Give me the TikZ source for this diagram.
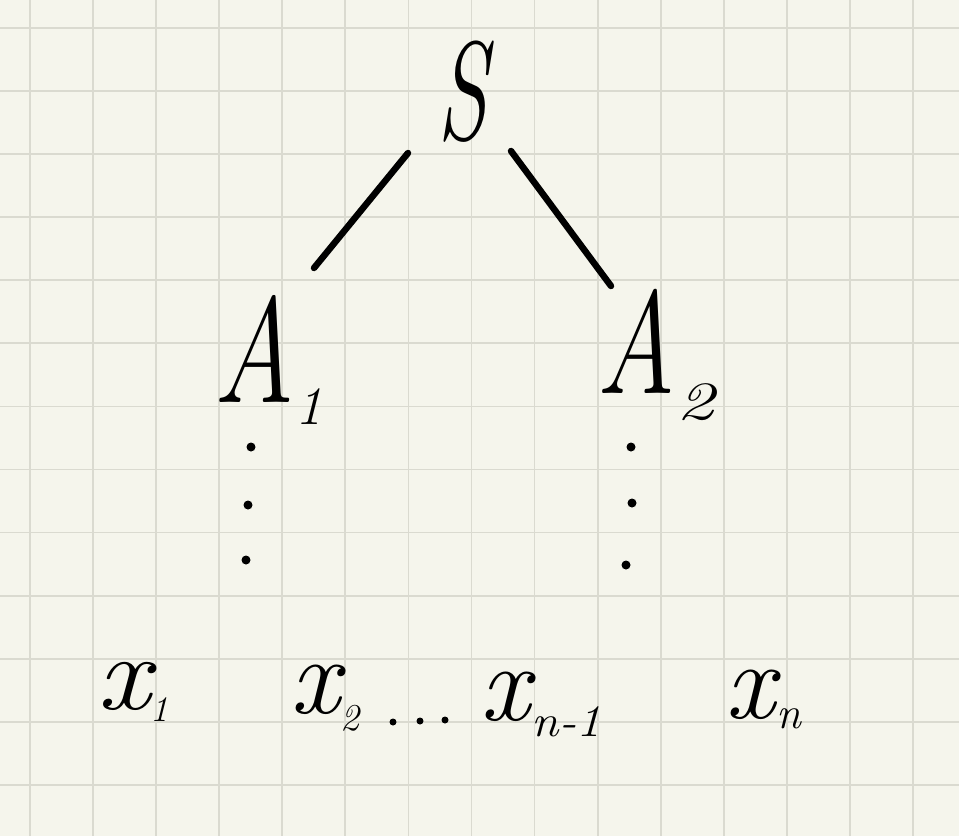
\documentclass[tikz,border=0pt]{standalone}
\usepackage{fontspec}
\usepackage{graphicx}
\usetikzlibrary{calc}
\definecolor{paper}{RGB}{245,245,236}
\definecolor{gridc}{RGB}{218,218,208}
\newcommand\hwtxt[3]{\scalebox{#2}[1]{\fontsize{#1}{#1}\selectfont\itshape #3}}
\newcommand\hwsub[3]{\hspace*{#1}\raisebox{#2}{#3}}
\tikzset{
  lbl/.style={anchor=base west, inner sep=0pt, outer sep=0pt},
  edge/.style={line width=6.5pt, line cap=round},
  dotn/.style={circle, fill=black, inner sep=0pt, minimum size=9pt},
  smalldot/.style={circle, fill=black, inner sep=0pt, minimum size=7pt},
  gridline/.style={gridc, line width=1.8pt}
}
\begin{document}
\begin{tikzpicture}[x=1pt,y=-1pt]
\fill[paper] (0,0) rectangle (959,836);
\useasboundingbox (0,0) rectangle (959,836);
\foreach \i in {0,...,14} \draw[gridline] ({30+63.07*\i},0) -- ++(0,836);
\foreach \i in {0,...,12} \draw[gridline] (0,{28+63.07*\i}) -- ++(959,0);

% root
\node[anchor=base, inner sep=0pt, outer sep=0pt] (S) at (463,139) {\hwtxt{140}{0.65}{S}};
% second level
\node[lbl] (A1) at (213,402) {\hwtxt{150}{0.75}{A}\hwsub{0.5pt}{-22pt}{\hwtxt{54}{1}{1}}};
\node[lbl] (A2) at (596.5,393) {\hwtxt{146}{0.75}{A}\hwsub{0.5pt}{-26pt}{\hwtxt{54}{1.4}{2}}};

\draw[edge] ($(S.base)+(-55,14)$) -- ($(A1.base west)+(101,-134)$);
\draw[edge] ($(S.base)+(48,12)$) -- ($(A2.base west)+(14.5,-107)$);

% vertical dots
\node[dotn] (d11) at (251,447) {};
\node[dotn] (d12) at (248,505) {};
\node[dotn] (d13) at (246,560) {};
\node[dotn] (d21) at (631,447) {};
\node[dotn] (d22) at (632,503) {};
\node[dotn] (d23) at (626,565) {};

% leaves
\node[lbl] (x1) at (97,709) {\hwtxt{107}{1.1}{x}\hwsub{0.5pt}{-12pt}{\hwtxt{36}{1}{1}}};
\node[lbl] (x2) at (290,713) {\hwtxt{110}{1}{x}\hwsub{0.5pt}{-17pt}{\hwtxt{38}{1}{2}}};
\node[smalldot] (b1) at (393,722) {};
\node[smalldot] (b2) at (420,721) {};
\node[smalldot] (b3) at (445,720) {};
\node[lbl] (xm) at (480.4,720) {\hwtxt{110}{1}{x}\hwsub{2pt}{-16pt}{\hwtxt{45}{1.1}{n-1}}};
\node[lbl] (xn) at (725.4,718) {\hwtxt{110}{1}{x}\hwsub{2pt}{-10pt}{\hwtxt{45}{1}{n}}};
\end{tikzpicture}
\end{document}
